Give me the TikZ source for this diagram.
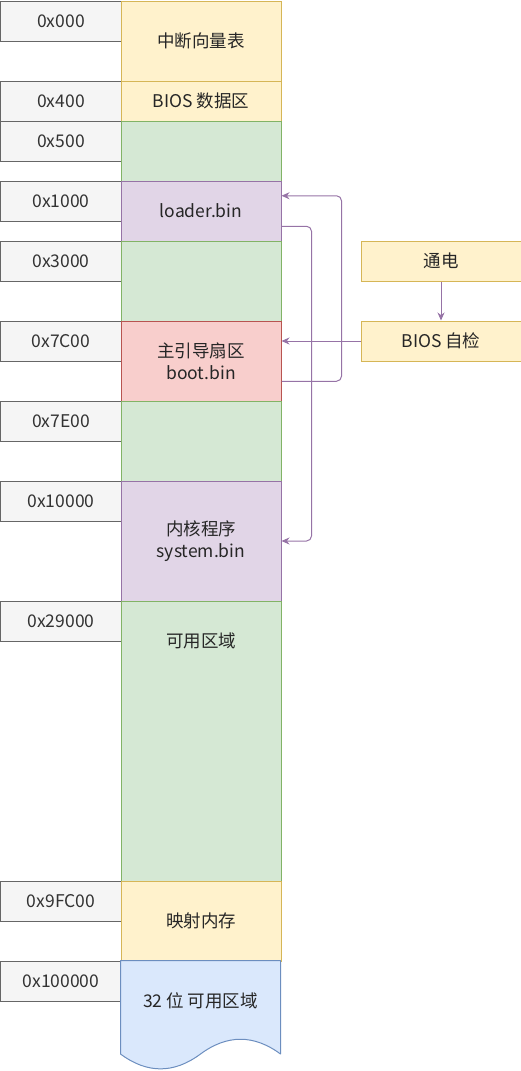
\documentclass[tikz,border=0pt]{standalone}
\usepackage{fontspec}
\setmainfont{Noto Sans CJK SC}
\usetikzlibrary{arrows.meta,calc}
\definecolor{yfill}{HTML}{FFF2CC}\definecolor{ydraw}{HTML}{D6B656}
\definecolor{gfill}{HTML}{D5E8D4}\definecolor{gdraw}{HTML}{82B366}
\definecolor{pfill}{HTML}{E1D5E7}\definecolor{pdraw}{HTML}{9673A6}
\definecolor{rfill}{HTML}{F8CECC}\definecolor{rdraw}{HTML}{B85450}
\definecolor{bfill}{HTML}{DAE8FC}\definecolor{bdraw}{HTML}{6C8EBF}
\definecolor{lfill}{HTML}{F5F5F5}\definecolor{ldraw}{HTML}{666666}
\definecolor{ltext}{HTML}{333333}
\begin{document}
\begin{tikzpicture}[x=1pt,y=-1pt,
  every node/.style={font=\fontsize{17.5}{22}\selectfont},
  addr/.style={draw=ldraw,fill=lfill,text=ltext,line width=1pt,minimum width=120pt,minimum height=40pt,inner sep=0pt,anchor=north west},
  blk/.style={line width=1pt,minimum width=160pt,inner sep=0pt,anchor=north west,align=center,text=black!85},
  yel/.style={blk,draw=ydraw,fill=yfill},
  grn/.style={blk,draw=gdraw,fill=gfill},
  pur/.style={blk,draw=pdraw,fill=pfill},
  red/.style={blk,draw=rdraw,fill=rfill},
  sidebox/.style={draw=ydraw,fill=yfill,line width=1pt,minimum width=160pt,minimum height=40pt,inner sep=0pt,text=black!85},
  arr/.style={draw=pdraw,line width=1pt,-{Stealth[length=8pt,width=7pt]},rounded corners=5pt}
]
\useasboundingbox (-0.5,-0.5) rectangle (520.5,1070.5);
% address labels
\node[addr] (a0) at (0,0) {0x000};
\node[addr] (a1) at (0,80) {0x400};
\node[addr] (a2) at (0,120) {0x500};
\node[addr] (a3) at (0,180) {0x1000};
\node[addr] (a4) at (0,240) {0x3000};
\node[addr] (a5) at (0,320) {0x7C00};
\node[addr] (a6) at (0,400) {0x7E00};
\node[addr] (a7) at (0,480) {0x10000};
\node[addr] (a8) at (0,600) {0x29000};
\node[addr] (a9) at (0,880) {0x9FC00};
\node[addr] (a10) at (0,960) {0x100000};
% memory blocks
\node[yel,minimum height=80pt] (ivt) at (120,0) {中断向量表};
\node[yel,minimum height=40pt] (bda) at (120,80) {BIOS 数据区};
\node[grn,minimum height=60pt] (g1) at (120,120) {};
\node[pur,minimum height=60pt] (loader) at (120,180) {loader.bin};
\node[grn,minimum height=80pt] (g2) at (120,240) {};
\node[red,minimum height=80pt] (boot) at (120,320) {主引导扇区\\boot.bin};
\node[grn,minimum height=80pt] (g3) at (120,400) {};
\node[pur,minimum height=120pt] (system) at (120,480) {内核程序\\system.bin};
\node[grn,minimum height=280pt,label={[anchor=center,yshift=-40pt,text=black!85]north:可用区域}] (free) at (120,600) {};
\node[yel,minimum height=80pt] (map) at (120,880) {映射内存};
% 32-bit region (document shape)
\draw[draw=bdraw,fill=bfill,line width=1pt,line join=round]
  (120,960) -- (280,960) -- (280,1053.5)
  .. controls (253.33,1033.83) and (226.67,1033.83) .. (200,1053.5)
  .. controls (173.33,1073.3) and (146.67,1073.3) .. (120,1053.5) -- cycle;
\node[text=black!85] (m32) at (200,1000) {32 位 可用区域};
% right boxes
\node[sidebox,anchor=north west] (power) at (360,240) {通电};
\node[sidebox,anchor=north west] (post) at (360,320) {BIOS 自检};
% connectors
\draw[arr] (power) -- (post);
\draw[arr] (post.west) -- (post.west -| boot.east);
\draw[arr] ($(boot.north east)!0.75!(boot.south east)$) -- ++(60,0) |- ($(loader.north east)!0.25!(loader.south east)$);
\draw[arr] ($(loader.north east)!0.75!(loader.south east)$) -- ++(30,0) |- (system.east);
\end{tikzpicture}
\end{document}
